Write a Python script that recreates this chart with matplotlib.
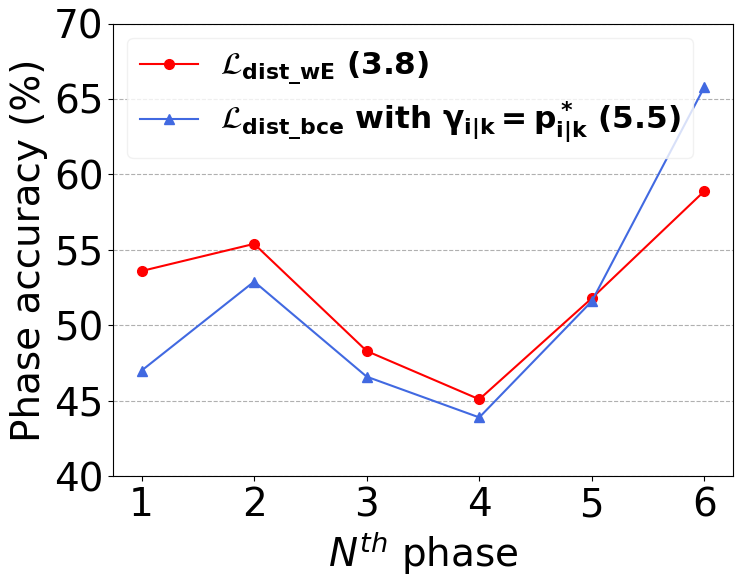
import matplotlib
matplotlib.use('Agg')
import matplotlib.pyplot as plt

phases = [1, 2, 3, 4, 5, 6]
acc_dist_we = [53.6, 55.4, 48.3, 45.1, 51.8, 58.9]
acc_dist_bce = [47.0, 52.9, 46.6, 43.9, 51.6, 65.8]
y_ticks = [40, 45, 50, 55, 60, 65, 70]

fig, ax = plt.subplots(figsize=(7.46, 5.88), dpi=100)
ax.plot(phases, acc_dist_we, marker='o', color='red', linewidth=1.5, markersize=7,
        label=r'$\mathcal{L}_{\mathbf{dist\_wE}}$ (3.8)')
ax.plot(phases, acc_dist_bce, marker='^', color='royalblue', linewidth=1.5, markersize=7,
        label=r'$\mathcal{L}_{\mathbf{dist\_bce}}$ with $\mathbf{\gamma_{i|k}=p^*_{i|k}}$ (5.5)')
ax.set_ylim(40, 70)
ax.set_yticks(y_ticks)
ax.set_xticks(phases)
ax.tick_params(labelsize=28)
ax.yaxis.grid(True, linestyle='--', color='#b0b0b0')
ax.set_xlabel(r'$N^{th}$ phase', fontsize=28)
ax.set_ylabel('Phase accuracy (%)', fontsize=28)
leg = ax.legend(loc='upper left', prop={'size': 22.5, 'weight': 'bold'}, framealpha=0.8,
                borderpad=0.4, edgecolor='#eeeeee', handlelength=1.85,
                handletextpad=0.7, labelspacing=0.4, borderaxespad=0.45)
plt.subplots_adjust(left=0.152, right=0.982, top=0.96, bottom=0.19)
plt.savefig('out.png')
